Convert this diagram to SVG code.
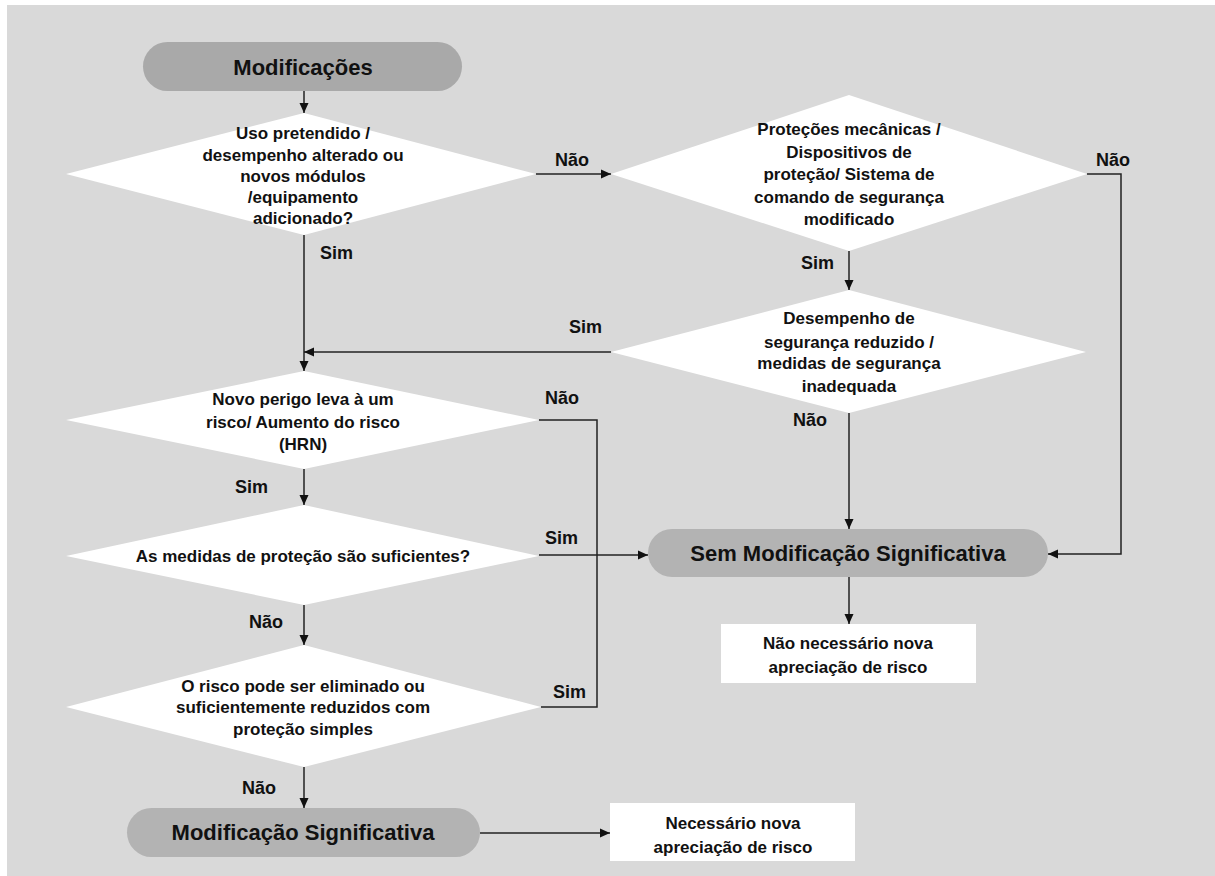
<svg xmlns="http://www.w3.org/2000/svg" width="1215" height="876" viewBox="0 0 1215 876">
<defs>
<marker id="ah" markerUnits="userSpaceOnUse" markerWidth="10" markerHeight="10" viewBox="0 0 10 10" refX="10" refY="5" orient="auto">
<path d="M0,0.5 L10,5 L0,9.5 Z" fill="#111"/>
</marker>
<style>
.bg{fill:#d9d9d9}
.dia{fill:#ffffff}
.box{fill:#ffffff}
.pill{fill:#b3b3b3}
.pill0{fill:#a9a9a9}
.t{font-family:"Liberation Sans",Arial,sans-serif;font-weight:bold;font-size:17px;fill:#111;text-anchor:middle}
.lbl{font-family:"Liberation Sans",Arial,sans-serif;font-weight:bold;font-size:18px;fill:#111}
.big{font-family:"Liberation Sans",Arial,sans-serif;font-weight:bold;font-size:22px;fill:#111;text-anchor:middle}
.bigb{font-family:"Liberation Sans",Arial,sans-serif;font-weight:bold;font-size:22px;fill:#111;text-anchor:middle}
.c{fill:none;stroke:#222;stroke-width:1.5}
.a{marker-end:url(#ah)}
</style>
</defs>
<rect x="0" y="0" width="1215" height="876" fill="#ffffff"/>
<rect class="bg" x="7" y="5" width="1208" height="871"/>

<g id="connectors">
<path class="c a" d="M304,91 V113"/>
<path class="c a" d="M536,174 H611"/>
<path class="c a" d="M304,235 V371"/>
<path class="c a" d="M1087,174 H1121 V554 H1048"/>
<path class="c a" d="M849,251 V290"/>
<path class="c a" d="M611,352 H304"/>
<path class="c a" d="M849,413 V529"/>
<path class="c a" d="M304,469 V505"/>
<path class="c" d="M539,420 H597 V707 H541"/>
<path class="c a" d="M539,555 H648"/>
<path class="c a" d="M304,605 V645"/>
<path class="c a" d="M304,767 V808"/>
<path class="c a" d="M480,833 H610"/>
<path class="c a" d="M849,577 V624"/>
</g>

<g id="labels">
<text class="lbl" x="555" y="166">Não</text>
<text class="lbl" x="320" y="259">Sim</text>
<text class="lbl" x="1096" y="166">Não</text>
<text class="lbl" x="801" y="269">Sim</text>
<text class="lbl" x="569" y="333">Sim</text>
<text class="lbl" x="793" y="426">Não</text>
<text class="lbl" x="545" y="404">Não</text>
<text class="lbl" x="235" y="493">Sim</text>
<text class="lbl" x="545" y="544">Sim</text>
<text class="lbl" x="249" y="628">Não</text>
<text class="lbl" x="553" y="698">Sim</text>
<text class="lbl" x="242" y="794">Não</text>
</g>

<g id="n_modificacoes">
<rect class="pill0" x="143" y="42" width="319" height="49" rx="24.5"/>
<text class="bigb" x="303" y="75">Modificações</text>
</g>

<g id="n_d1">
<polygon class="dia" points="304,113 536,174 304,235 66,174"/>
<text class="t" x="303" y="139">Uso pretendido /</text>
<text class="t" x="303" y="161">desempenho alterado ou</text>
<text class="t" x="303" y="182">novos módulos</text>
<text class="t" x="303" y="203">/equipamento</text>
<text class="t" x="303" y="224">adicionado?</text>
</g>

<g id="n_d2">
<polygon class="dia" points="849,95 1087,174 849,251 611,174"/>
<text class="t" x="849" y="135">Proteções mecânicas /</text>
<text class="t" x="849" y="158">Dispositivos de</text>
<text class="t" x="849" y="180">proteção/ Sistema de</text>
<text class="t" x="849" y="203">comando de segurança</text>
<text class="t" x="849" y="225">modificado</text>
</g>

<g id="n_d3">
<polygon class="dia" points="849,290 1086,352 849,413 611,352"/>
<text class="t" x="849" y="324">Desempenho de</text>
<text class="t" x="849" y="348">segurança reduzido /</text>
<text class="t" x="849" y="369">medidas de segurança</text>
<text class="t" x="849" y="392">inadequada</text>
</g>

<g id="n_d4">
<polygon class="dia" points="304,371 539,420 304,469 66,420"/>
<text class="t" x="303" y="405">Novo perigo leva à um</text>
<text class="t" x="303" y="428">risco/ Aumento do risco</text>
<text class="t" x="303" y="450">(HRN)</text>
</g>

<g id="n_d5">
<polygon class="dia" points="304,505 539,556 304,605 66,556"/>
<text class="t" x="303" y="562">As medidas de proteção são suficientes?</text>
</g>

<g id="n_d6">
<polygon class="dia" points="304,645 541,707 304,767 66,707"/>
<text class="t" x="303" y="692">O risco pode ser eliminado ou</text>
<text class="t" x="303" y="713">suficientemente reduzidos com</text>
<text class="t" x="303" y="735">proteção simples</text>
</g>

<g id="n_sem">
<rect class="pill" x="648" y="529" width="400" height="48" rx="24"/>
<text class="big" x="848" y="561">Sem Modificação Significativa</text>
</g>

<g id="n_naonecessario">
<rect class="box" x="721" y="624" width="255" height="59"/>
<text class="t" x="848" y="649">Não necessário nova</text>
<text class="t" x="848" y="673">apreciação de risco</text>
</g>

<g id="n_modsig">
<rect class="pill" x="127" y="808" width="353" height="49" rx="24.5"/>
<text class="big" x="303" y="840">Modificação Significativa</text>
</g>

<g id="n_necessario">
<rect class="box" x="610" y="803" width="245" height="58"/>
<text class="t" x="733" y="829">Necessário nova</text>
<text class="t" x="733" y="853">apreciação de risco</text>
</g>
</svg>
